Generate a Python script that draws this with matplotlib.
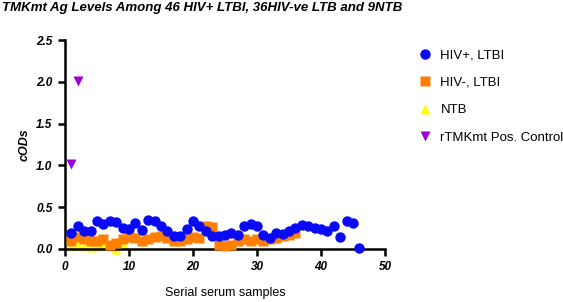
import numpy as np
import matplotlib
matplotlib.use('Agg')
import matplotlib.pyplot as plt

plt.rcParams['font.family'] = ['Liberation Sans', 'DejaVu Sans']

# ---- DATA ---- #
hiv_pos = [0.19, 0.27, 0.215, 0.21, 0.33, 0.30, 0.33, 0.32, 0.25, 0.24,
           0.31, 0.23, 0.35, 0.33, 0.28, 0.215, 0.15, 0.16, 0.24, 0.33,
           0.28, 0.215, 0.15, 0.15, 0.17, 0.19, 0.17, 0.27, 0.30, 0.27,
           0.17, 0.13, 0.19, 0.18, 0.215, 0.255, 0.29, 0.27, 0.25, 0.24,
           0.215, 0.27, 0.14, 0.335, 0.31, 0.01]
hiv_neg = [0.10, 0.14, 0.12, 0.10, 0.10, 0.12, 0.05, 0.07, 0.12, 0.14,
           0.13, 0.10, 0.12, 0.14, 0.15, 0.13, 0.10, 0.10, 0.12, 0.14,
           0.13, 0.28, 0.26, 0.05, 0.03, 0.05, 0.10, 0.12, 0.10, 0.12,
           0.10, 0.12, 0.13, 0.15, 0.17, 0.19]
ntb = [0.03, 0.05, 0.04, 0.02, 0.03, 0.05, 0.04, 0.0, 0.06]
pos_ctrl = [1.02, 2.01]

x_pos = np.arange(1, len(hiv_pos) + 1)
x_neg = np.arange(1, len(hiv_neg) + 1)
x_ntb = np.arange(1, len(ntb) + 1)
x_ctrl = np.arange(1, len(pos_ctrl) + 1)

# ---- PLOTTING ---- #
fig = plt.figure(figsize=(5.63, 3.02), dpi=100)
ax = fig.add_axes([0.1155, 0.1755, 0.5685, 0.692])

ax.plot(x_neg, hiv_neg, 's', color='#FF7F00', ms=6.5, mec='none',
        label='HIV-, LTBI', clip_on=False, zorder=3)
ax.plot(x_pos, hiv_pos, 'o', color='#0A0AF5', ms=7.5, mec='none',
        label='HIV+, LTBI', clip_on=False, zorder=4)
ax.plot(x_ntb, ntb, '^', color='#FFFF00', ms=7, mec='none',
        label='NTB', clip_on=False, zorder=2)
ax.plot(x_ctrl, pos_ctrl, 'v', color='#9B00D9', ms=7, mec='none',
        label='rTMKmt Pos. Control', clip_on=False, zorder=5)

# ---- AXIS ---- #
ax.set_xlim(0, 50)
ax.set_ylim(0, 2.5)
ax.set_xticks([0, 10, 20, 30, 40, 50])
ax.set_yticks([0.0, 0.5, 1.0, 1.5, 2.0, 2.5])
ax.set_yticklabels(['0.0', '0.5', '1.0', '1.5', '2.0', '2.5'])
for s in ['top', 'right']:
    ax.spines[s].set_visible(False)
for s in ['left', 'bottom']:
    ax.spines[s].set_linewidth(1.8)
ax.tick_params(width=1.8, length=5, direction='out', labelsize=8.5, pad=4)
for lbl in ax.get_xticklabels() + ax.get_yticklabels():
    lbl.set_fontstyle('italic')
    lbl.set_fontweight('bold')

# ---- LABELS ---- #
ax.set_xlabel('Serial serum samples', fontsize=9, labelpad=10)
ax.set_ylabel('cODs', fontsize=9, fontstyle='italic', fontweight='bold',
              labelpad=4)
fig.text(0.003, 0.992, 'TMKmt Ag Levels Among 46 HIV+ LTBI, 36HIV-ve LTB and 9NTB',
         fontsize=9.5, fontstyle='italic', fontweight='bold',
         ha='left', va='top')

# ---- LEGEND ---- #
h, l = ax.get_legend_handles_labels()
order = [1, 0, 2, 3]
fig.legend([h[i] for i in order], [l[i] for i in order],
           loc='upper left', bbox_to_anchor=(0.733, 0.855), frameon=False,
           fontsize=9.5, labelspacing=1.15, handletextpad=0.7,
           handlelength=1.0, borderaxespad=0)

fig.savefig('out.png', dpi=100)
